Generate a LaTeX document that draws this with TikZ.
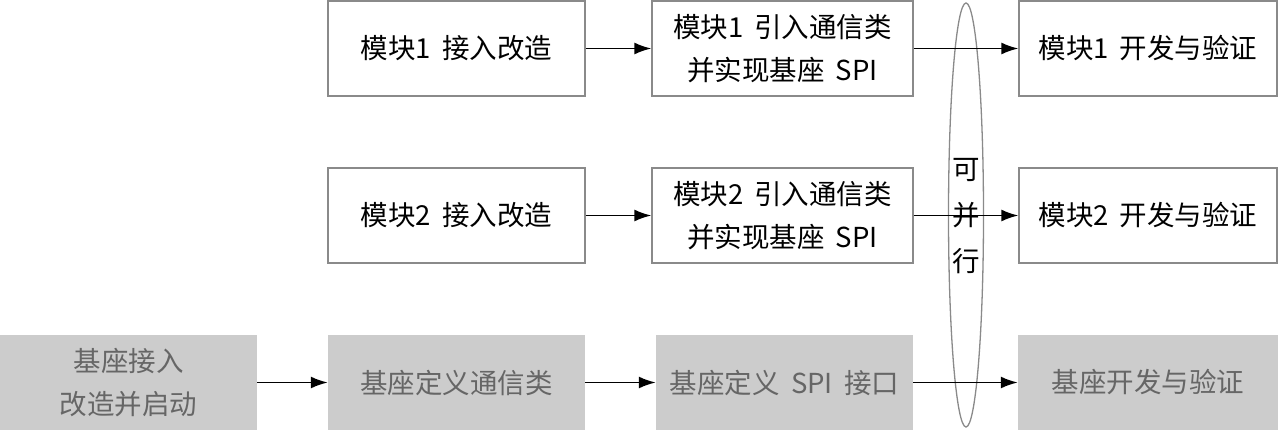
\documentclass[tikz,border=0pt]{standalone}
\usepackage{fontspec}
\setmainfont{Noto Sans CJK SC}[WordSpace=1.8]
\usetikzlibrary{arrows.meta,shapes.geometric}
\definecolor{boxline}{HTML}{8A8A8A}
\definecolor{basefill}{HTML}{CCCCCC}
\definecolor{basetext}{HTML}{666666}
\tikzset{
  x=1pt, y=-1pt,
  txt/.style={font=\fontsize{27.5}{43}\selectfont, align=center, inner sep=0pt},
  modbox/.style={txt, draw=boxline, line width=1.3pt, fill=white, minimum height=95pt},
  basebox/.style={txt, fill=basefill, text=basetext, minimum height=95pt},
  flow/.style={line width=1.8pt, -{Latex[length=17pt,width=12pt]}},
}
\begin{document}
\begin{tikzpicture}
\useasboundingbox (0,0) rectangle (1278,430);
% row 1
\node[modbox, minimum width=257pt] (a1) at (456.5,48.5) {模块1 接入改造};
\node[modbox, minimum width=261pt] (b1) at (782.5,48.5) {模块1 引入通信类\\并实现基座 SPI};
\node[modbox, minimum width=258pt] (c1) at (1148,48.5) {模块1 开发与验证};
% row 2
\node[modbox, minimum width=257pt] (a2) at (456.5,215.5) {模块2 接入改造};
\node[modbox, minimum width=261pt] (b2) at (782.5,215.5) {模块2 引入通信类\\并实现基座 SPI};
\node[modbox, minimum width=258pt] (c2) at (1148,215.5) {模块2 开发与验证};
% row 3
\node[basebox, minimum width=257pt] (d0) at (128.5,382.5) {基座接入\\改造并启动};
\node[basebox, minimum width=257pt] (d1) at (456.5,382.5) {基座定义通信类};
\node[basebox, minimum width=257pt] (d2) at (784.5,382.5) {基座定义 SPI 接口};
\node[basebox, minimum width=260pt] (d3) at (1148,382.5) {基座开发与验证};
% parallel ellipse
\node[ellipse, draw=boxline, line width=1.3pt, minimum width=35pt, minimum height=424pt, inner sep=0pt] (par) at (966,215) {};
\node[txt, font=\fontsize{27.5}{46}\selectfont] (partxt) at (966,216) {可\\并\\行};
% arrows
\draw[flow] (a1) -- (b1);
\draw[flow] (b1) -- (c1);
\draw[flow] (a2) -- (b2);
\draw[flow] (b2) -- (c2);
\draw[flow] (d0) -- (d1);
\draw[flow] (d1) -- (d2);
\draw[flow] (d2) -- (d3);
\end{tikzpicture}
\end{document}
